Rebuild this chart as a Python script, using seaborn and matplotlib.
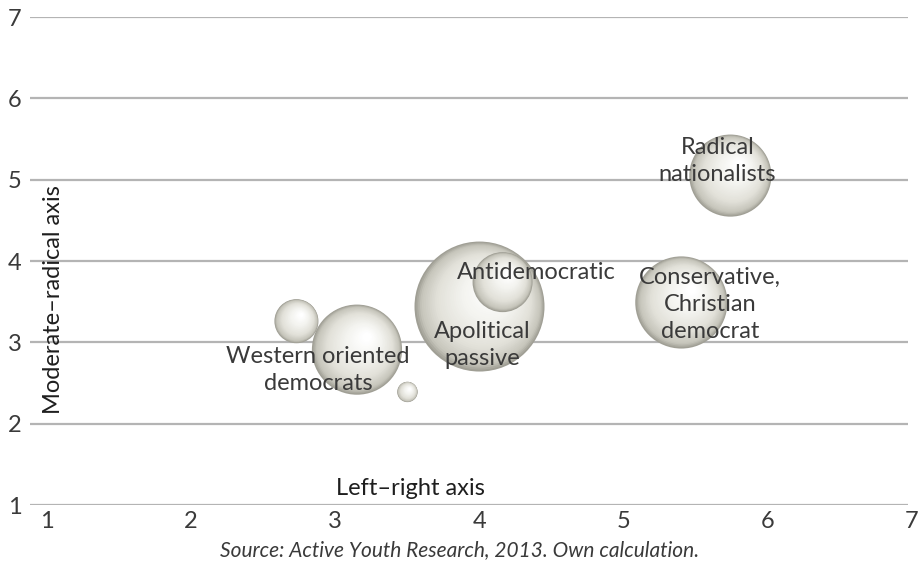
import numpy as np
import pandas as pd
import seaborn as sns
import matplotlib.pyplot as plt
from matplotlib.colors import LinearSegmentedColormap, to_hex

# --- datos ---
labels = ["", "Western oriented\ndemocrats", "", "Apolitical\npassive",
          "Antidemocratic", "Radical\nnationalists", "Conservative,\nChristian\ndemocrat"]
left_right = [2.73, 3.15, 3.50, 4.00, 4.16, 5.74, 5.40]
moderate_radical = [3.26, 2.91, 2.39, 3.44, 3.74, 5.05, 3.49]
share = [4.2, 17.6, 0.9, 36.6, 7.8, 14.6, 18.4]
x_ticks = [1, 2, 3, 4, 5, 6, 7]
y_ticks = [1, 2, 3, 4, 5, 6, 7]
source = "Source: Active Youth Research, 2013. Own calculation."

# --- estilo ---
sns.set_style("white")
plt.rcParams["font.family"] = ["Lato", "DejaVu Sans"]
TXT = "#3a3a3a"
GRID = "#b4b4b4"
DPI = 100
MAX_R_PX = 65          # radio en px de la burbuja mayor
N_LAYERS = 40

sphere = LinearSegmentedColormap.from_list(
    "sphere", [(0, "#a09f95"), (0.08, "#c6c5bb"), (0.3, "#e2e1d9"),
               (0.65, "#f3f3ef"), (1, "#ffffff")])

# desplazamiento de las etiquetas respecto al centro (px, y hacia arriba)
label_off = {1: (-39, -20), 3: (3, -38), 4: (34, 10), 5: (-13, 15), 6: (29, -2)}

fig = plt.figure(figsize=(9.2, 5.77), dpi=DPI)
ax = fig.add_axes([30 / 920, 72 / 577, 882 / 920, 488 / 577])
ax.set_xlim(0.882, 7.0)
ax.set_ylim(1, 7)

# líneas de cuadrícula horizontales
ax.hlines(y_ticks, 0.882, 6.97, color=GRID, lw=1.6, zorder=1)

px_x = ax.bbox.width / (7.0 - 0.882)
px_y = ax.bbox.height / 6.0
vmax = max(share)

for i, (x, y, v) in enumerate(zip(left_right, moderate_radical, share)):
    r = MAX_R_PX * np.sqrt(v / vmax)
    rows = []
    for k in range(N_LAYERS):
        t = k / (N_LAYERS - 1)
        f = 1 - 0.9 * t
        rows.append({
            "x": x + 0.22 * t * r / px_x,
            "y": y + 0.28 * t * r / px_y,
            "layer": k,
            "s": (2 * r * f * 72 / DPI) ** 2,
            "c": to_hex(sphere(t)),
        })
    df = pd.DataFrame(rows)
    sns.scatterplot(
        data=df, x="x", y="y", hue="layer", size="layer",
        palette=dict(zip(df["layer"], df["c"])),
        sizes=dict(zip(df["layer"], df["s"])),
        linewidth=0, legend=False, ax=ax, zorder=3 + i, clip_on=False,
    )

# etiquetas de datos
for i, lab in enumerate(labels):
    if not lab:
        continue
    dx, dy = label_off[i]
    ax.annotate(lab, (left_right[i], moderate_radical[i]),
                xytext=(dx * 72 / DPI, dy * 72 / DPI), textcoords="offset points",
                ha="center", va="center", fontsize=17, color=TXT,
                linespacing=1.35, zorder=20)

ax.set_xticks(x_ticks)
ax.set_yticks(y_ticks)
ax.tick_params(length=0, labelsize=17, labelcolor=TXT)
ax.tick_params(axis="y", pad=6)
ax.tick_params(axis="x", pad=4)
ax.set_xlabel("")
ax.set_ylabel("")
sns.despine(ax=ax, left=True, bottom=True)

ax.text(0.431, 0.033, "Left–right axis", transform=ax.transAxes,
        ha="center", va="center", fontsize=17, color="#1e1e1e")
ax.text(0.027, 0.42, "Moderate–radical axis", transform=ax.transAxes,
        rotation=90, ha="center", va="center", fontsize=17, color="#1e1e1e")

fig.text(0.5, 0.047, source, ha="center", va="center", fontsize=15,
         style="italic", color=TXT)

fig.savefig("out.png", dpi=DPI)
